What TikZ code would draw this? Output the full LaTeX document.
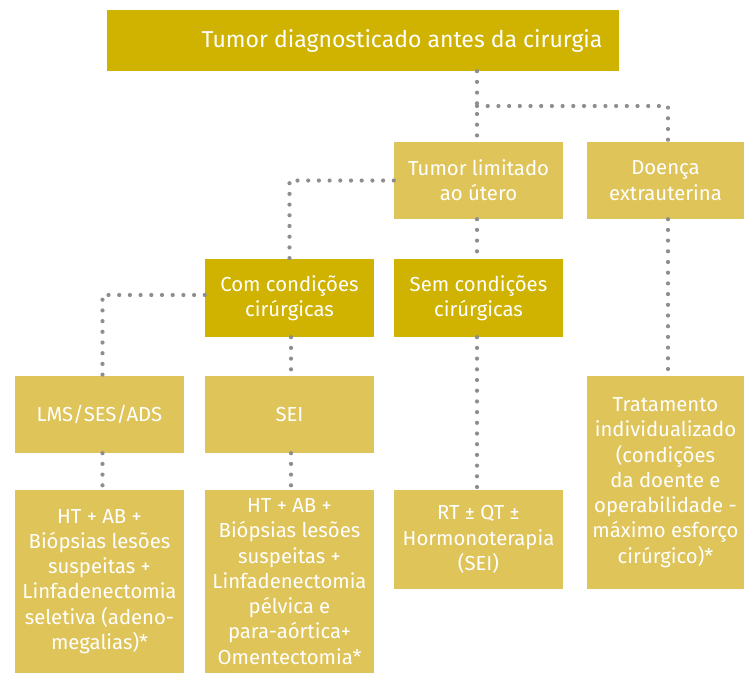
\documentclass[tikz,border=0pt]{standalone}
\usepackage{fontspec}
\setmainfont{Fira Sans}
\begin{document}
\begin{tikzpicture}[x=1pt,y=-1pt,
  darkbox/.style={fill=boxdark,draw=none,text=white,inner sep=0pt,align=center,
    font=\fontsize{20.3}{25.3}\selectfont},
  lightbox/.style={darkbox,fill=boxlight},
  dots/.style={draw=dotgray,line width=4.2pt,line cap=round,dash pattern=on 0pt off 10.7pt}]
\definecolor{boxdark}{RGB}{208,179,0}
\definecolor{boxlight}{RGB}{223,196,90}
\definecolor{dotgray}{RGB}{142,142,142}
\useasboundingbox (0,0) rectangle (744,673);
% boxes
\node[darkbox,minimum width=512pt,minimum height=61pt] (top) at (363,40.5) {};
\node[text=white,inner sep=0pt,font=\fontsize{23}{28}\selectfont] (toptext) at (402,40.5) {Tumor diagnosticado antes da cirurgia};
\node[lightbox,minimum width=169pt,minimum height=77pt] (lim) at (478.5,180.5) {Tumor limitado\\ao útero};
\node[lightbox,minimum width=157pt,minimum height=77pt] (doe) at (665.5,180.5) {Doença\\extrauterina};
\node[darkbox,minimum width=169pt,minimum height=78pt] (com) at (289.5,298) {Com condições\\cirúrgicas};
\node[darkbox,minimum width=169pt,minimum height=78pt] (sem) at (478.5,298) {Sem condições\\cirúrgicas};
\node[lightbox,minimum width=169pt,minimum height=77pt] (lms) at (99.5,414.5) {LMS/SES/ADS};
\node[lightbox,minimum width=169pt,minimum height=77pt] (sei) at (289.5,414.5) {SEI};
\node[lightbox,minimum width=157pt,minimum height=213pt] (trat) at (665.5,482.5) {Tratamento\\individualizado\\(condições\\da doente e\\operabilidade -\\máximo esforço\\cirúrgico)*};
\node[lightbox,minimum width=169pt,minimum height=183pt] (b1) at (99.5,581.5) {HT + AB +\\Biópsias lesões\\suspeitas +\\Linfadenectomia\\seletiva (adeno-\\megalias)*};
\node[lightbox,minimum width=169pt,minimum height=183pt] (b2) at (289.5,581.5) {HT + AB +\\Biópsias lesões\\suspeitas +\\Linfadenectomia\\pélvica e\\para-aórtica+\\Omentectomia*};
\node[lightbox,minimum width=169pt,minimum height=99pt] (rt) at (478.5,539.5) {RT ± QT ±\\Hormonoterapia\\(SEI)};
% dotted connectors
\coordinate (j1) at (477,106);
\draw[dots] (top.south -| j1) -- (j1 |- lim.north);
\draw[dots] (j1) -- (668,106) -- (668,142);
\draw[dots] (lim.west) -- (com.north |- lim.west) -- (com.north);
\draw[dots] ([yshift=3pt]com.west) -- ([xshift=3pt,yshift=3pt]lms.north |- com.west) -- ([xshift=3pt]lms.north);
\draw[dots] ([xshift=1.5pt]com.south) -- ([xshift=1.5pt]sei.north);
\draw[dots] ([xshift=3pt]lms.south) -- ([xshift=3pt]b1.north);
\draw[dots] ([xshift=1.5pt]sei.south) -- ([xshift=1.5pt]b2.north);
\draw[dots] ([xshift=-1.5pt]lim.south) -- ([xshift=-1.5pt]sem.north);
\draw[dots] ([xshift=-1.5pt]sem.south) -- ([xshift=-1.5pt]rt.north);
\draw[dots] ([xshift=2.5pt]doe.south) -- ([xshift=2.5pt]trat.north);
\end{tikzpicture}
\end{document}
